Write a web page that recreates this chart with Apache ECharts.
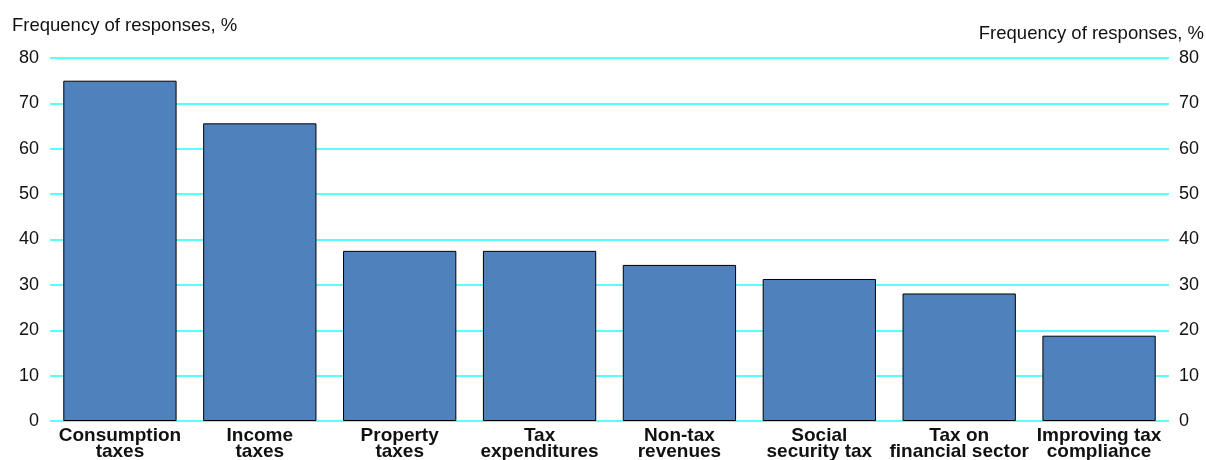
<!DOCTYPE html>
<html>
<head>
<meta charset="utf-8">
<script src="https://cdn.jsdelivr.net/npm/echarts@6/dist/echarts.min.js"></script>
<style>
  html, body { margin: 0; padding: 0; background: #fff; }
  #chart { width: 1206px; height: 460px; }
</style>
</head>
<body>
<div id="chart"></div>
<script>
const categories = [
  "Consumption\ntaxes", "Income\ntaxes", "Property\ntaxes", "Tax\nexpenditures",
  "Non-tax\nrevenues", "Social\nsecurity tax", "Tax on\nfinancial sector", "Improving tax\ncompliance"
];
const responses = [75, 65.6, 37.5, 37.5, 34.4, 31.3, 28.1, 18.8];
const yTicks = { min: 0, max: 80, interval: 10 };

const font = "Liberation Sans, Arial, sans-serif";
const gridColor = "#22ffff";
const chart = echarts.init(document.getElementById("chart"));

chart.setOption({
  animation: false,
  grid: { left: 50, right: 37, top: 58, bottom: 39, outerBoundsMode: "none", containLabel: false },
  graphic: [
    { type: "text", left: 12, top: 16, style: { text: "Frequency of responses, %", fontSize: 18.5, fontFamily: font, fill: "#111" } },
    { type: "text", right: 2, top: 24, style: { text: "Frequency of responses, %", fontSize: 18.5, fontFamily: font, fill: "#111" } },
  ],
  xAxis: {
    type: "category",
    data: categories,
    axisLine: { show: false },
    axisTick: { show: false },
    splitLine: { show: false },
    axisLabel: {
      interval: 0,
      color: "#111",
      fontSize: 19,
      fontWeight: "bold",
      fontFamily: font,
      lineHeight: 16,
      margin: 7,
    },
  },
  yAxis: [
    {
      type: "value",
      position: "left",
      min: yTicks.min,
      max: yTicks.max,
      interval: yTicks.interval,
      axisLine: { show: false },
      axisTick: { show: false },
      splitLine: { show: true, lineStyle: { color: gridColor, width: 1.6 } },
      axisLabel: { color: "#111", fontSize: 18, fontFamily: font, margin: 11 },
    },
    {
      type: "value",
      position: "right",
      min: yTicks.min,
      max: yTicks.max,
      interval: yTicks.interval,
      axisLine: { show: false },
      axisTick: { show: false },
      splitLine: { show: false },
      axisLabel: { color: "#111", fontSize: 18, fontFamily: font, margin: 10 },
    },
  ],
  series: [
    {
      type: "bar",
      data: responses,
      barCategoryGap: "19%",
      itemStyle: { color: "#4f81bd", borderColor: "#000", borderWidth: 1 },
    },
  ],
});
</script>
</body>
</html>
